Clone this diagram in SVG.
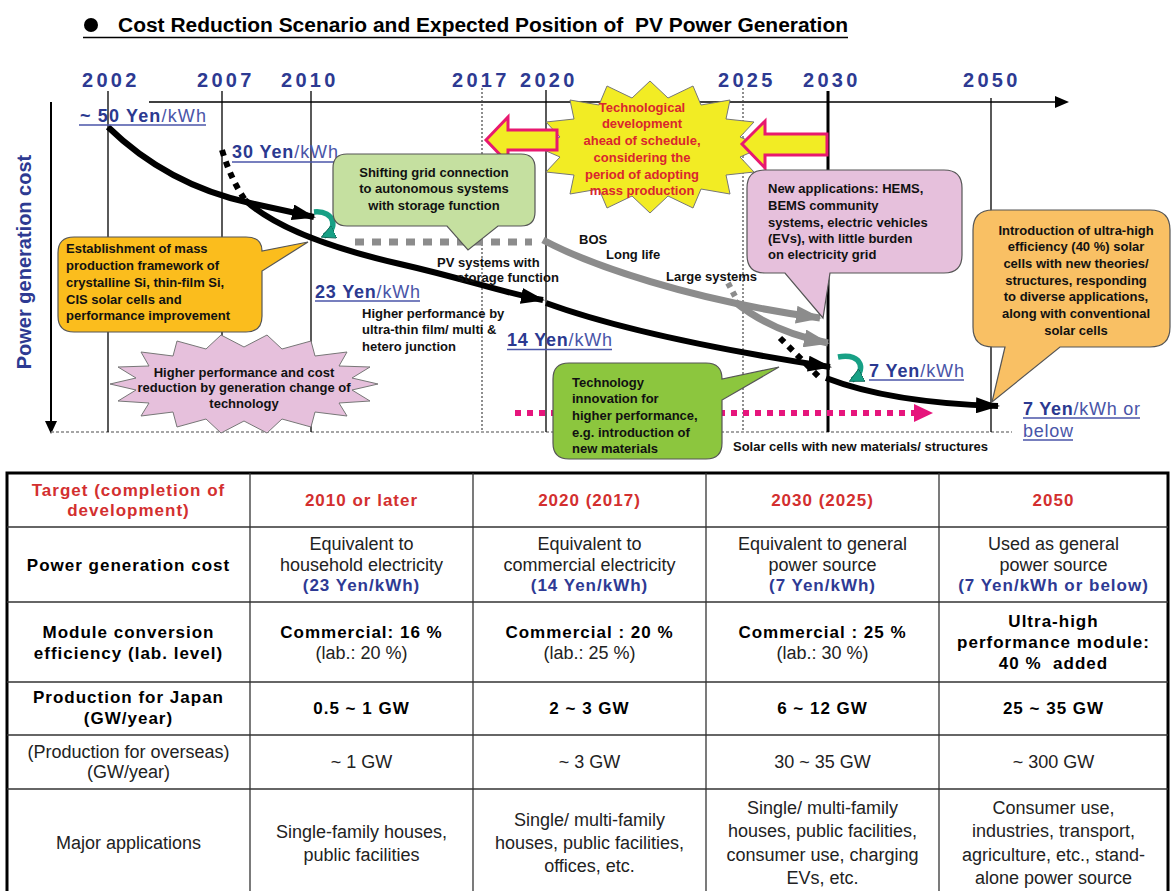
<svg xmlns="http://www.w3.org/2000/svg" width="1171" height="891" viewBox="0 0 1171 891">
<style>
text{font-family:"Liberation Sans",Arial,sans-serif}
.yr{font-size:20px;font-weight:bold;fill:#2d3a92;letter-spacing:3.3px}
.cl{font-size:13px;font-weight:bold;fill:#111}
.red{fill:#d9262e}
.cost{font-size:18px;font-weight:bold;fill:#2b3990}
.unit{font-weight:normal;fill:#4a55a8}
.ul{stroke:#4a55a8;stroke-width:1.3}
.vl{stroke:#000;stroke-width:1.3}
.dl{stroke:#444;stroke-width:1.2;stroke-dasharray:2 2}
.blk{fill:none;stroke:#000;stroke-width:6}
.dot{fill:none;stroke:#000;stroke-width:6;stroke-dasharray:6 6}
.gry{fill:none;stroke:#8c8c8c;stroke-width:7}
.co{stroke:#555;stroke-width:1.2}
.th{font-size:17px;font-weight:bold;fill:#d32f2f;letter-spacing:1px}
.tb{font-size:17px;font-weight:bold;fill:#000;letter-spacing:1px}
.tr{font-size:18px;fill:#222}
.tbl{font-size:17px;font-weight:bold;fill:#2e3a94;letter-spacing:1px}
.grid{stroke:#333;stroke-width:1.3}
.mid{text-anchor:middle}
.teal{fill:none;stroke:#17a085;stroke-width:5.5}
</style>
<defs>
<marker id="ahB" markerUnits="userSpaceOnUse" markerWidth="24" markerHeight="16" refX="22" refY="8" orient="auto" viewBox="0 0 24 16"><path d="M0,0 L24,8 L0,16 Z" fill="#000"/></marker>
<marker id="ahG" markerUnits="userSpaceOnUse" markerWidth="26" markerHeight="18" refX="24" refY="9" orient="auto" viewBox="0 0 26 18"><path d="M0,0 L26,9 L0,18 Z" fill="#8c8c8c"/></marker>
<marker id="ahT" markerUnits="userSpaceOnUse" markerWidth="14" markerHeight="14" refX="11" refY="7" orient="auto" viewBox="0 0 14 14"><path d="M0,0 L14,7 L0,14 Z" fill="#17a085" stroke="#0d5f50" stroke-width="0.8"/></marker>
</defs>

<!-- title -->
<g id="title">
<circle cx="91" cy="25" r="7" fill="#000"/>
<text x="118" y="32" font-size="20" font-weight="bold" textLength="730" lengthAdjust="spacingAndGlyphs" fill="#000" xml:space="preserve">Cost Reduction Scenario and Expected Position of  PV Power Generation</text>
<line x1="83" y1="37.5" x2="848" y2="37.5" stroke="#000" stroke-width="1.5"/>
</g>

<!-- axes and year lines -->
<g id="axes">
<text class="yr" x="82" y="87">2002</text>
<text class="yr" x="197" y="87">2007</text>
<text class="yr" x="281" y="87">2010</text>
<text class="yr" x="452" y="87">2017</text>
<text class="yr" x="520" y="87">2020</text>
<text class="yr" x="718" y="87">2025</text>
<text class="yr" x="803" y="87">2030</text>
<text class="yr" x="963" y="87">2050</text>
<line x1="149" y1="102" x2="1056" y2="102" stroke="#000" stroke-width="1.3"/>
<path d="M1055,96 L1069,102 L1055,108 Z" fill="#000"/>
<line x1="51" y1="102" x2="51" y2="422" stroke="#000" stroke-width="2"/>
<path d="M45,421 L51,434 L57,421 Z" fill="#000"/>
<line x1="51" y1="432" x2="1012" y2="432" stroke="#888" stroke-width="1.5" stroke-dasharray="3 2"/>
<line class="vl" x1="108" y1="91" x2="108" y2="432"/>
<line class="vl" x1="222" y1="91" x2="222" y2="432"/>
<line class="vl" x1="311" y1="91" x2="311" y2="432"/>
<line class="dl" x1="482" y1="88" x2="482" y2="432"/>
<line class="vl" x1="546" y1="90" x2="546" y2="432" stroke-width="1.6"/>
<line class="dl" x1="743" y1="88" x2="743" y2="432"/>
<line x1="828" y1="91" x2="828" y2="432" stroke="#000" stroke-width="3"/>
<line class="vl" x1="991" y1="98" x2="991" y2="432" stroke-width="1.2"/>
<text x="31" y="262" transform="rotate(-90 31 262)" class="mid" font-size="20" font-weight="bold" fill="#2d3a92">Power generation cost</text>
</g>

<!-- connectors -->
<g id="connectors">
<line x1="355" y1="242" x2="532" y2="242" stroke="#8c8c8c" stroke-width="7" stroke-dasharray="9 8"/>
<path class="gry" d="M543,240 C590,265 690,300 820,318" marker-end="url(#ahG)"/>
<path class="gry" d="M735,302 Q772,332 828,343" marker-end="url(#ahG)"/>
<line x1="728" y1="283" x2="737" y2="300" stroke="#8c8c8c" stroke-width="6" stroke-dasharray="5 5"/>
<path class="blk" d="M108,127 C150,168 200,192 250,203 L314,217" marker-end="url(#ahB)"/>
<path class="dot" d="M222,150 C228,170 235,185 245,200"/>
<path class="blk" d="M245,200 C275,228 330,248 400,264 S500,292 543,300" marker-end="url(#ahB)"/>
<path class="blk" d="M546,303 C620,330 720,350 830,367" marker-end="url(#ahB)"/>
<path class="dot" d="M780,338 L822,380"/>
<path class="blk" d="M826,378 C870,395 930,404 998,406" marker-end="url(#ahB)"/>
<line x1="515" y1="413" x2="915" y2="413" stroke="#e6157c" stroke-width="6" stroke-dasharray="6 6"/>
<path d="M914,404 L933,413 L914,422 Z" fill="#e6157c"/>
<path class="teal" d="M314,212 C336,210 338,230 324,236" marker-end="url(#ahT)"/>
<path class="teal" d="M838,357 C864,352 866,373 852,380" marker-end="url(#ahT)"/>
</g>

<!-- cost labels -->
<g id="costLabels">
<text class="cost" x="80" y="121.5" textLength="126">~ 50 Yen<tspan class="unit">/kWh</tspan></text>
<line class="ul" x1="79" y1="125" x2="206" y2="125"/>
<text class="cost" x="232" y="158" textLength="106">30 Yen<tspan class="unit">/kWh</tspan></text>
<line class="ul" x1="232" y1="162" x2="338" y2="162"/>
<text class="cost" x="315" y="298" textLength="105">23 Yen<tspan class="unit">/kWh</tspan></text>
<line class="ul" x1="315" y1="301" x2="420" y2="301"/>
<text class="cost" x="507" y="346" textLength="105">14 Yen<tspan class="unit">/kWh</tspan></text>
<line class="ul" x1="507" y1="349.5" x2="612" y2="349.5"/>
<text class="cost" x="869" y="377" textLength="95">7 Yen<tspan class="unit">/kWh</tspan></text>
<line class="ul" x1="869" y1="380" x2="964" y2="380"/>
<text class="cost" x="1023" y="415" textLength="117">7 Yen<tspan class="unit">/kWh or</tspan></text>
<line class="ul" x1="1023" y1="418" x2="1140" y2="418"/>
<text class="cost unit" x="1023" y="437" textLength="50">below</text>
<line class="ul" x1="1023" y1="440" x2="1073" y2="440"/>
</g>

<!-- free labels -->
<g id="labels">
<text class="cl" x="362" y="318" font-size="12.5">Higher performance by</text>
<text class="cl" x="362" y="334" font-size="12.5">ultra-thin film/ multi &amp;</text>
<text class="cl" x="362" y="351" font-size="12.5">hetero junction</text>
<text class="cl" x="437" y="267" font-size="14">PV systems with</text>
<text class="cl" x="457" y="282" font-size="14">storage function</text>
<text class="cl" x="579" y="244">BOS</text>
<text class="cl" x="606" y="259">Long life</text>
<text class="cl" x="666" y="281">Large systems</text>
<text class="cl" x="733" y="451" font-size="12">Solar cells with new materials/ structures</text>
</g>

<!-- yellow starburst -->
<g id="tech-ahead">
<polygon points="763,147 740,157 754,172 726,175 730,194 701,189 693,208 668,196 650,213 632,196 607,208 599,189 570,194 574,175 546,172 560,157 537,147 560,137 546,122 574,119 570,100 599,105 607,86 632,98 650,81 668,98 693,86 701,105 730,100 726,119 754,122 740,137" fill="#f2ec24" stroke="#777" stroke-width="1"/>
<polygon points="486,140 508,117 508,130 557,130 557,150 508,150 508,163" fill="#f2ec24" stroke="#e8196f" stroke-width="3" stroke-linejoin="miter"/>
<polygon points="742,144 765,121 765,134 827,134 827,155 765,155 765,168" fill="#f2ec24" stroke="#e8196f" stroke-width="3"/>
<text class="cl red mid" x="642" y="112">Technological</text>
<text class="cl red mid" x="642" y="128">development</text>
<text class="cl red mid" x="642" y="145">ahead of schedule,</text>
<text class="cl red mid" x="642" y="162">considering the</text>
<text class="cl red mid" x="642" y="179">period of adopting</text>
<text class="cl red mid" x="642" y="195">mass production</text>
</g>

<!-- shifting grid callout -->
<g id="shifting-grid">
<path class="co" d="M347,154 H521 Q535,154 535,168 V212 Q535,226 521,226 H498 L468,250 L447,226 H347 Q333,226 333,212 V168 Q333,154 347,154 Z" fill="#c5e0a0"/>
<text class="cl mid" x="434" y="177" font-size="12.5">Shifting grid connection</text>
<text class="cl mid" x="434" y="193" font-size="12.5">to autonomous systems</text>
<text class="cl mid" x="434" y="210" font-size="12.5">with storage function</text>
</g>

<!-- mass production callout -->
<g id="mass-production">
<path class="co" d="M74,237 H246 Q262,237 262,251 L308,242 L262,271 V316 Q262,332 246,332 H74 Q58,332 58,316 V253 Q58,237 74,237 Z" fill="#fbbd1d"/>
<text class="cl" x="66" y="253">Establishment of mass</text>
<text class="cl" x="66" y="270">production framework of</text>
<text class="cl" x="66" y="287">crystalline Si, thin-film Si,</text>
<text class="cl" x="66" y="304">CIS solar cells and</text>
<text class="cl" x="66" y="320">performance improvement</text>
</g>

<!-- pink starburst -->
<g id="generation-change">
<polygon points="378,384 352,390 370,401 339,403 347,416 315,412 311,427 282,419 267,433 244,421 221,433 206,419 177,427 173,412 141,416 149,403 118,401 136,390 110,384 136,378 118,367 149,366 141,352 173,356 177,341 206,349 221,335 244,347 267,335 282,349 311,341 315,356 347,352 339,366 370,367 352,378" fill="#e6c0dc" stroke="#777" stroke-width="1"/>
<text class="cl mid" x="244" y="377">Higher performance and cost</text>
<text class="cl mid" x="244" y="392">reduction by generation change of</text>
<text class="cl mid" x="244" y="408">technology</text>
</g>

<!-- new applications callout -->
<g id="new-applications">
<path class="co" d="M765,170 H944 Q962,170 962,188 V255 Q962,273 944,273 H830 L823,318 L785,273 H765 Q747,273 747,255 V188 Q747,170 765,170 Z" fill="#e6c0dc"/>
<text class="cl" x="768" y="193">New applications: HEMS,</text>
<text class="cl" x="768" y="210">BEMS community</text>
<text class="cl" x="768" y="227">systems, electric vehicles</text>
<text class="cl" x="768" y="243">(EVs), with little burden</text>
<text class="cl" x="768" y="259">on electricity grid</text>
</g>

<!-- ultra-high efficiency callout -->
<g id="ultra-high">
<path class="co" d="M993,210 H1150 Q1170,210 1170,230 V327 Q1170,347 1150,347 H1060 L992,402 L1005,347 H993 Q973,347 973,327 V230 Q973,210 993,210 Z" fill="#f9c064"/>
<text class="cl mid" x="1076" y="235" font-size="12.5">Introduction of ultra-high</text>
<text class="cl mid" x="1076" y="251" font-size="12.5">efficiency (40 %) solar</text>
<text class="cl mid" x="1076" y="268" font-size="12.5">cells with new theories/</text>
<text class="cl mid" x="1076" y="285" font-size="12.5">structures, responding</text>
<text class="cl mid" x="1076" y="301" font-size="12.5">to diverse applications,</text>
<text class="cl mid" x="1076" y="318" font-size="12.5">along with conventional</text>
<text class="cl mid" x="1076" y="335" font-size="12.5">solar cells</text>
</g>

<!-- technology innovation callout -->
<g id="tech-innovation">
<path class="co" d="M569,363 H706 Q722,363 722,379 L779,367 L722,400 V443 Q722,459 706,459 H569 Q553,459 553,443 V379 Q553,363 569,363 Z" fill="#8cc63e"/>
<text class="cl" x="572" y="387">Technology</text>
<text class="cl" x="572" y="403">innovation for</text>
<text class="cl" x="572" y="420">higher performance,</text>
<text class="cl" x="572" y="437">e.g. introduction of</text>
<text class="cl" x="572" y="453">new materials</text>
</g>

<!-- table -->
<g id="table">
<rect x="7" y="473" width="1161" height="440" fill="#fff" stroke="#000" stroke-width="3"/>
<line class="grid" x1="250" y1="473" x2="250" y2="891"/>
<line class="grid" x1="473" y1="473" x2="473" y2="891"/>
<line class="grid" x1="706" y1="473" x2="706" y2="891"/>
<line class="grid" x1="939" y1="473" x2="939" y2="891"/>
<line class="grid" x1="7" y1="527" x2="1168" y2="527"/>
<line class="grid" x1="7" y1="602" x2="1168" y2="602"/>
<line class="grid" x1="7" y1="682" x2="1168" y2="682"/>
<line class="grid" x1="7" y1="735" x2="1168" y2="735"/>
<line class="grid" x1="7" y1="789" x2="1168" y2="789"/>

<text class="th mid" x="128.5" y="496">Target (completion of</text>
<text class="th mid" x="128.5" y="516">development)</text>
<text class="th mid" x="361.5" y="506">2010 or later</text>
<text class="th mid" x="589.5" y="506">2020 (2017)</text>
<text class="th mid" x="822.5" y="506">2030 (2025)</text>
<text class="th mid" x="1053.5" y="506">2050</text>

<text class="tb mid" x="128.5" y="571">Power generation cost</text>
<text class="tr mid" x="361.5" y="550">Equivalent to</text>
<text class="tr mid" x="361.5" y="571">household electricity</text>
<text class="tbl mid" x="361.5" y="591">(23 Yen/kWh)</text>
<text class="tr mid" x="589.5" y="550">Equivalent to</text>
<text class="tr mid" x="589.5" y="571">commercial electricity</text>
<text class="tbl mid" x="589.5" y="591">(14 Yen/kWh)</text>
<text class="tr mid" x="822.5" y="550">Equivalent to general</text>
<text class="tr mid" x="822.5" y="571">power source</text>
<text class="tbl mid" x="822.5" y="591">(7 Yen/kWh)</text>
<text class="tr mid" x="1053.5" y="550">Used as general</text>
<text class="tr mid" x="1053.5" y="571">power source</text>
<text class="tbl mid" x="1053.5" y="591">(7 Yen/kWh or below)</text>

<text class="tb mid" x="128.5" y="638">Module conversion</text>
<text class="tb mid" x="128.5" y="659">efficiency (lab. level)</text>
<text class="tb mid" x="361.5" y="638">Commercial: 16 %</text>
<text class="tr mid" x="361.5" y="659">(lab.: 20 %)</text>
<text class="tb mid" x="589.5" y="638">Commercial : 20 %</text>
<text class="tr mid" x="589.5" y="659">(lab.: 25 %)</text>
<text class="tb mid" x="822.5" y="638">Commercial : 25 %</text>
<text class="tr mid" x="822.5" y="659">(lab.: 30 %)</text>
<text class="tb mid" x="1053.5" y="627">Ultra-high</text>
<text class="tb mid" x="1053.5" y="648">performance module:</text>
<text class="tb mid" x="1053.5" y="669" xml:space="preserve">40 %  added</text>

<text class="tb mid" x="128.5" y="703">Production for Japan</text>
<text class="tb mid" x="128.5" y="724">(GW/year)</text>
<text class="tb mid" x="361.5" y="714">0.5 ~ 1 GW</text>
<text class="tb mid" x="589.5" y="714">2 ~ 3 GW</text>
<text class="tb mid" x="822.5" y="714">6 ~ 12 GW</text>
<text class="tb mid" x="1053.5" y="714">25 ~ 35 GW</text>

<text class="tr mid" x="128.5" y="758">(Production for overseas)</text>
<text class="tr mid" x="128.5" y="778">(GW/year)</text>
<text class="tr mid" x="361.5" y="768">~ 1 GW</text>
<text class="tr mid" x="589.5" y="768">~ 3 GW</text>
<text class="tr mid" x="822.5" y="768">30 ~ 35 GW</text>
<text class="tr mid" x="1053.5" y="768">~ 300 GW</text>

<text class="tr mid" x="128.5" y="849">Major applications</text>
<text class="tr mid" x="361.5" y="838">Single-family houses,</text>
<text class="tr mid" x="361.5" y="861">public facilities</text>
<text class="tr mid" x="589.5" y="826">Single/ multi-family</text>
<text class="tr mid" x="589.5" y="849">houses, public facilities,</text>
<text class="tr mid" x="589.5" y="872">offices, etc.</text>
<text class="tr mid" x="822.5" y="814">Single/ multi-family</text>
<text class="tr mid" x="822.5" y="837">houses, public facilities,</text>
<text class="tr mid" x="822.5" y="861">consumer use, charging</text>
<text class="tr mid" x="822.5" y="884">EVs, etc.</text>
<text class="tr mid" x="1053.5" y="814">Consumer use,</text>
<text class="tr mid" x="1053.5" y="837">industries, transport,</text>
<text class="tr mid" x="1053.5" y="861">agriculture, etc., stand-</text>
<text class="tr mid" x="1053.5" y="884">alone power source</text>
</g>
</svg>
